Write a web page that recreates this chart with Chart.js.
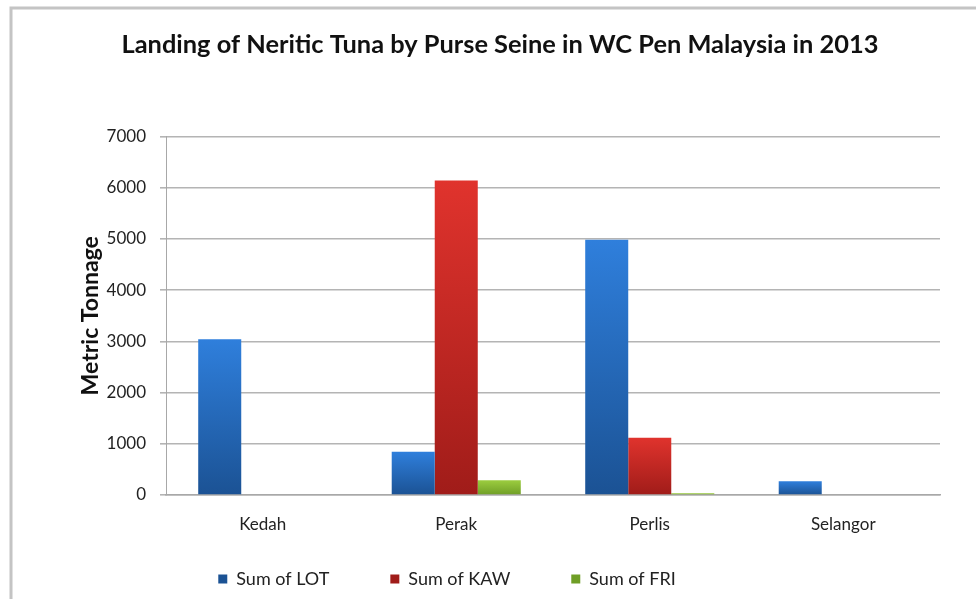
<!DOCTYPE html>
<html>
<head>
<meta charset="utf-8">
<script src="https://cdn.jsdelivr.net/npm/chart.js@4/dist/chart.umd.min.js"></script>
<style>
  html, body { margin: 0; padding: 0; background: #fff; }
  #wrap { position: relative; width: 976px; height: 599px; }
</style>
</head>
<body>
<div id="wrap"><canvas id="chart" width="976" height="599"></canvas></div>
<script>
const states = ['Kedah', 'Perak', 'Perlis', 'Selangor'];
const lotValues = [3040, 845, 4985, 270];
const kawValues = [0, 6140, 1120, 0];
const friValues = [0, 290, 35, 0];
const yTicks = [0, 1000, 2000, 3000, 4000, 5000, 6000, 7000];

const FONT = 'Lato, "Open Sans", sans-serif';

// each bar gets its own vertical gradient, light on top, dark at the base
function barGradient(light, dark) {
  return (context) => {
    const { chart, raw } = context;
    const yScale = chart.scales.y;
    if (!chart.chartArea || !yScale || !raw) {
      return dark;
    }
    const top = yScale.getPixelForValue(raw);
    const bottom = yScale.getPixelForValue(0);
    const gradient = chart.ctx.createLinearGradient(0, top, 0, bottom);
    gradient.addColorStop(0, light);
    gradient.addColorStop(1, dark);
    return gradient;
  };
}

const framePlugin = {
  id: 'frame',
  beforeDraw(chart) {
    const ctx = chart.ctx;
    ctx.save();
    ctx.strokeStyle = '#c4c4c4';
    ctx.lineWidth = 3;
    ctx.strokeRect(11, 8, 990, 620);
    ctx.restore();
  }
};

// the legend keeps its wide item spacing but starts higher, so its row lands under the category labels;
// the legend and title are also nudged left to where the original has them
const layoutNudge = {
  id: 'layoutNudge',
  afterLayout(chart) {
    const legend = chart.legend;
    legend.top -= 24;
    legend.height += 24;
    legend.left -= 58;
    legend.right -= 58;

    const title = chart.titleBlock;
    if (title) {
      title.left -= 5;
      title.right -= 5;
    }
  }
};

new Chart(document.getElementById('chart'), {
  type: 'bar',
  data: {
    labels: states,
    datasets: [
      {
        label: 'Sum of LOT',
        data: lotValues,
        backgroundColor: barGradient('#2f7fdc', '#1b5294')
      },
      {
        label: 'Sum of KAW',
        data: kawValues,
        backgroundColor: barGradient('#e0332d', '#a01c19')
      },
      {
        label: 'Sum of FRI',
        data: friValues,
        backgroundColor: barGradient('#9ccd3f', '#6f9e26')
      }
    ]
  },
  options: {
    responsive: false,
    animation: false,
    layout: {
      padding: { left: 70, right: 36, top: 0, bottom: 0 }
    },
    datasets: {
      bar: {
        categoryPercentage: 0.667,
        barPercentage: 1.0
      }
    },
    scales: {
      x: {
        grid: { display: false, drawTicks: false },
        border: { color: '#a8a8a8', width: 1.5 },
        ticks: { color: '#222', font: { family: FONT, size: 17 }, padding: 19 },
        afterFit(scale) { scale.height = 38; }
      },
      y: {
        min: 0,
        max: 7000,
        afterBuildTicks(scale) {
          scale.ticks = yTicks.map(v => ({ value: v }));
        },
        grid: { color: '#b4b4b4', lineWidth: 1.6, tickLength: 6 },
        border: { color: '#a8a8a8', width: 1 },
        ticks: {
          color: '#222',
          font: { family: FONT, size: 17 },
          padding: 14,
          callback: (value) => String(value)
        },
        title: {
          display: true,
          text: 'Metric Tonnage',
          color: '#111',
          font: { family: FONT, size: 23, weight: 'bold' },
          padding: { top: 7, bottom: 0 }
        },
        afterFit(scale) { scale.width = 96; }
      }
    },
    plugins: {
      title: {
        display: true,
        text: 'Landing of Neritic Tuna by Purse Seine in WC Pen Malaysia in 2013',
        color: '#111',
        font: { family: FONT, size: 25.4, weight: 'bold' },
        padding: { top: 30, bottom: 76 }
      },
      legend: {
        position: 'bottom',
        maxHeight: 66,
        labels: {
          color: '#222',
          font: { family: FONT, size: 18 },
          boxWidth: 9,
          boxHeight: 9,
          padding: 61
        }
      },
      tooltip: { enabled: false }
    }
  },
  plugins: [framePlugin, layoutNudge]
});
</script>
</body>
</html>
